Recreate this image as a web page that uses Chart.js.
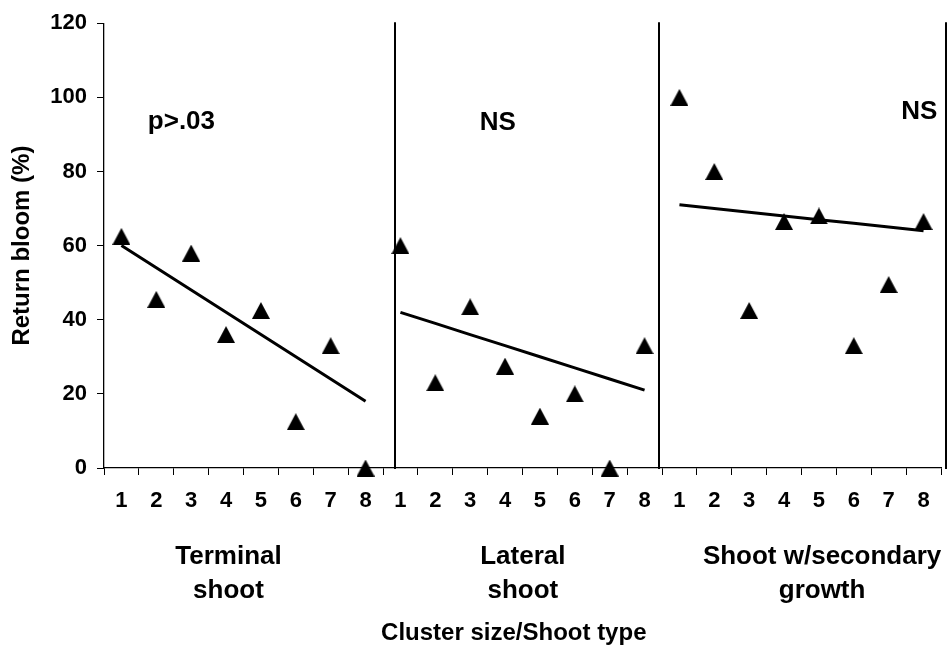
<!DOCTYPE html>
<html>
<head>
<meta charset="utf-8">
<script src="https://cdn.jsdelivr.net/npm/chart.js@4"></script>
<style>
  html, body { margin: 0; padding: 0; background: #fff; }
  #wrap { width: 951px; height: 647px; }
</style>
</head>
<body>
<div id="wrap"><canvas id="bloom"></canvas></div>
<script>
// cluster size ticks, repeated for each shoot type
const sizeLabels = ['1','2','3','4','5','6','7','8'];
const groupNames = [['Terminal', 'shoot'], ['Lateral', 'shoot'], ['Shoot w/secondary', 'growth']];
const xTitle = 'Cluster size/Shoot type';

// return bloom (%) per cluster size
const terminalBloom  = [62.5, 45.5, 58, 36, 42.5, 12.5, 33, 0];
const lateralBloom   = [60, 23, 43.5, 27.5, 14, 20, 0, 33];
const secondaryBloom = [100, 80, 42.5, 66.5, 68, 33, 49.5, 66.5];

// fitted trend lines
const terminalTrend  = [60, 54, 48, 42, 36, 30, 24, 18];
const lateralTrend   = [42, 39, 36, 33, 30, 27, 24, 21];
const secondaryTrend = [71, 70, 69, 68, 67, 66, 65, 64];

const yTicks = [0, 20, 40, 60, 80, 100, 120];
const notes = ['p>.03', 'NS', 'NS'];

const FONT = '"Liberation Sans", Arial, sans-serif';

function place(values, group){
    let out = new Array(24).fill(null);
    for(let i = 0; i < values.length; i++)
        out[group*8 + i] = values[i];
    return out;
}

// excel style marker: triangle centred on its box, not its circumcentre
function triangleMarker(w, h){
    const c = document.createElement('canvas');
    c.width = w; c.height = h;
    const g = c.getContext('2d');
    g.fillStyle = '#000';
    g.beginPath();
    g.moveTo(0, h);
    g.lineTo(w/2, 0);
    g.lineTo(w, h);
    g.closePath();
    g.fill();
    return c;
}

const labels = sizeLabels.concat(sizeLabels, sizeLabels);
const points = terminalBloom.concat(lateralBloom, secondaryBloom);

function trendSet(values, group){
    return {
        data: place(values, group),
        borderColor: '#000',
        borderWidth: 3,
        pointRadius: 0,
        spanGaps: false,
        tension: 0,
        order: 2
    };
}

// positions (in axis units) of hand-placed items
const notePos = [[1.72, 93.4], [10.79, 93.2], [22.88, 96.1]];
const groupPos = [3.07, 11.51, 20.09];
const titlePos = 11.25;
const dividers = [7.84, 15.40, 23.63];

const extras = {
    id: 'extras',
    afterDatasetsDraw(chart){
        const ctx = chart.ctx;
        const x = chart.scales.x, y = chart.scales.y;
        const area = chart.chartArea;
        ctx.save();
        ctx.strokeStyle = '#000';
        ctx.lineWidth = 2;
        dividers.forEach(d => {
            const px = Math.round(x.getPixelForValue(d));
            ctx.beginPath();
            ctx.moveTo(px, area.top - 1);
            ctx.lineTo(px, area.bottom + 1);
            ctx.stroke();
        });
        ctx.fillStyle = '#000';
        ctx.font = 'bold 26px ' + FONT;
        ctx.textAlign = 'center';
        ctx.textBaseline = 'middle';
        notes.forEach((t, i) => {
            ctx.fillText(t, x.getPixelForValue(notePos[i][0]), y.getPixelForValue(notePos[i][1]));
        });
        ctx.textBaseline = 'alphabetic';
        groupNames.forEach((lines, i) => {
            const cx = x.getPixelForValue(groupPos[i]);
            ctx.fillText(lines[0], cx, area.bottom + 96);
            ctx.fillText(lines[1], cx, area.bottom + 130);
        });
        ctx.font = 'bold 24px ' + FONT;
        ctx.fillText(xTitle, x.getPixelForValue(titlePos), area.bottom + 172);
        ctx.restore();
    }
};

const data = {
    labels: labels,
    datasets: [
        {
            data: points,
            showLine: false,
            pointStyle: triangleMarker(18, 17),
            pointRadius: 9,
            pointBackgroundColor: '#000',
            pointBorderColor: '#000',
            clip: false,
            order: 1
        },
        trendSet(terminalTrend, 0),
        trendSet(lateralTrend, 1),
        trendSet(secondaryTrend, 2)
    ]
};

const config = {
    type: 'line',
    data: data,
    options: {
        responsive: true,
        maintainAspectRatio: false,
        animation: false,
        layout: { padding: { top: 16, right: 9, left: 0, bottom: 0 } },
        plugins: { legend: { display: false }, tooltip: { enabled: false } },
        scales: {
            x: {
                offset: true,
                grid: { offset: true, drawOnChartArea: false, drawTicks: true, tickLength: 7, color: '#000', lineWidth: 1 },
                border: { display: true, color: '#000', width: 1.3 },
                ticks: { color: '#000', padding: 13, maxRotation: 0, autoSkip: false, font: { family: FONT, size: 22, weight: 'bold' } },
                afterFit(s){ s.height = 179; }
            },
            y: {
                min: yTicks[0],
                max: yTicks[yTicks.length - 1],
                afterBuildTicks(s){ s.ticks = yTicks.map(v => ({ value: v })); },
                grid: { drawOnChartArea: false, drawTicks: true, tickLength: 7, color: '#000', lineWidth: 1 },
                border: { display: true, color: '#000', width: 1.3 },
                ticks: { color: '#000', padding: 10, font: { family: FONT, size: 22, weight: 'bold' } },
                title: { display: true, text: 'Return bloom (%)', color: '#000', padding: { top: 8, bottom: 0 }, font: { family: FONT, size: 24, weight: 'bold' } },
                afterFit(s){ s.width = 104; }
            }
        }
    },
    plugins: [extras]
};

new Chart(document.getElementById('bloom').getContext('2d'), config);
</script>
</body>
</html>
